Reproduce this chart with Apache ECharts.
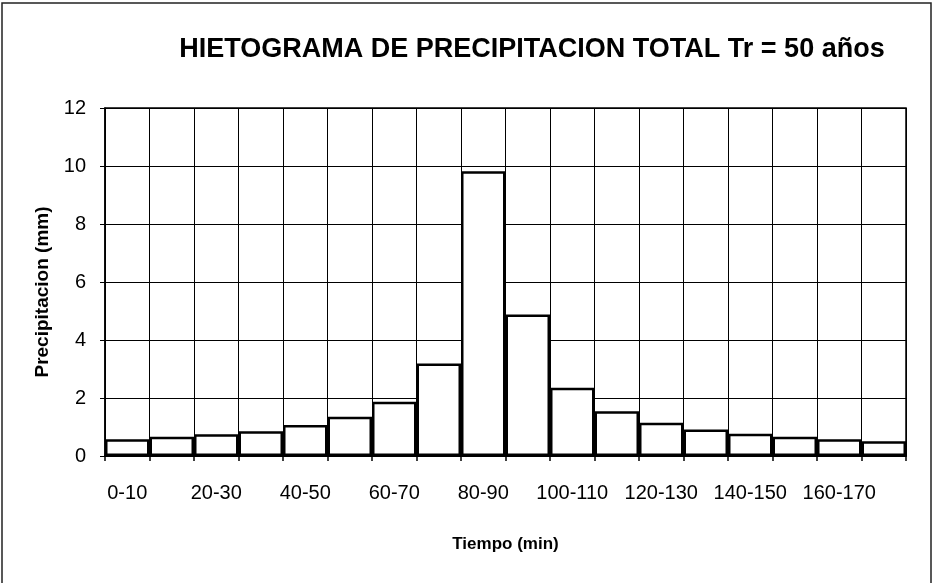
<!DOCTYPE html>
<html>
<head>
<meta charset="utf-8">
<script src="https://cdn.jsdelivr.net/npm/echarts@6/dist/echarts.min.js"></script>
<style>
  html, body { margin: 0; padding: 0; background: #fff; }
  #chart { width: 935px; height: 583px; }
</style>
</head>
<body>
<div id="chart"></div>
<script>
// intervalos de tiempo (min)
const categories = ['0-10','10-20','20-30','30-40','40-50','50-60','60-70','70-80','80-90',
  '90-100','100-110','110-120','120-130','130-140','140-150','150-160','160-170','170-180']
// precipitacion (mm)
const precip = [0.58, 0.66, 0.75, 0.85, 1.07, 1.35, 1.87, 3.19, 9.82,
  4.88, 2.35, 1.54, 1.15, 0.91, 0.77, 0.66, 0.58, 0.51]
const yTicks = [0, 2, 4, 6, 8, 10, 12]

const chart = echarts.init(document.getElementById('chart'))

const font = '"Liberation Sans", Arial, sans-serif'

const option = {
  backgroundColor: '#fff',
  animation: false,
  title: {
    text: 'HIETOGRAMA DE PRECIPITACION TOTAL Tr = 50 años',
    left: 527,
    top: 31,
    textAlign: 'center',
    textStyle: { fontFamily: font, fontSize: 27, fontWeight: 'bold', color: '#000' }
  },
  graphic: [{
    type: 'rect',
    shape: { x: 2, y: 3, width: 929, height: 600 },
    style: { fill: 'none', stroke: '#222', lineWidth: 1.5 },
    silent: true
  }],
  grid: {
    left: 105, right: 29, top: 108, bottom: 127,
    show: true, borderColor: '#000', borderWidth: 1.5
  },
  xAxis: {
    type: 'category',
    data: categories,
    name: 'Tiempo (min)',
    nameLocation: 'middle',
    nameGap: 80,
    nameTextStyle: { fontFamily: font, fontSize: 17, fontWeight: 'bold', color: '#000' },
    axisLine: { lineStyle: { color: '#000', width: 2 } },
    axisTick: { show: true, interval: 0, length: 5, lineStyle: { color: '#000', width: 1.5 } },
    axisLabel: { interval: 1, margin: 27, fontFamily: font, fontSize: 20, color: '#000' },
    splitLine: { show: true, interval: 0, lineStyle: { color: '#000', width: 1 } }
  },
  yAxis: {
    type: 'value',
    min: yTicks[0],
    max: yTicks[yTicks.length - 1],
    interval: 2,
    name: 'Precipitacion (mm)',
    nameLocation: 'middle',
    nameGap: 53,
    nameTextStyle: { fontFamily: font, fontSize: 19, fontWeight: 'bold', color: '#000', padding: [0, 20, 0, 0] },
    axisLine: { show: true, lineStyle: { color: '#000', width: 1.5 } },
    axisTick: { show: true, length: 5, lineStyle: { color: '#000', width: 1 } },
    axisLabel: { margin: 19, fontFamily: font, fontSize: 20, color: '#000' },
    splitLine: { show: true, lineStyle: { color: '#000', width: 1 } }
  },
  series: [{
    type: 'bar',
    data: precip,
    barWidth: '100%',
    itemStyle: { color: '#fff', borderColor: '#000', borderWidth: 2.5 }
  }]
}

chart.setOption(option)
</script>
</body>
</html>
